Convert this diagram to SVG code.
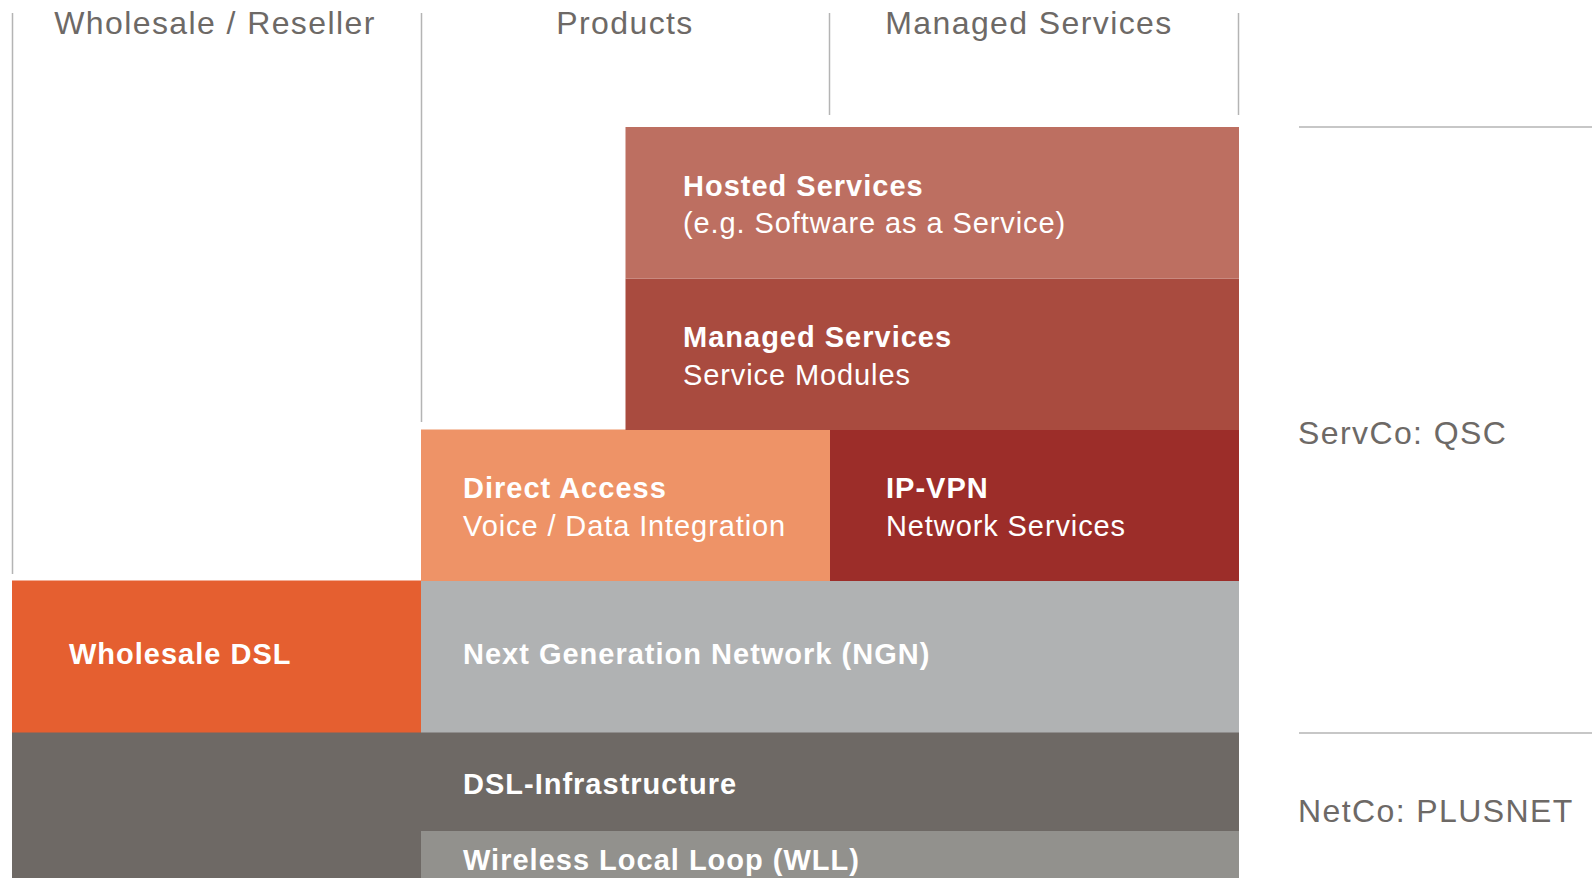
<svg xmlns="http://www.w3.org/2000/svg" width="1592" height="878" viewBox="0 0 1592 878">
  <style>
    .hdr { font-family: "Liberation Sans", Arial, sans-serif; font-size: 32px; letter-spacing: 1.4px; fill: #6d6966; text-anchor: middle; }
    .side { font-family: "Liberation Sans", Arial, sans-serif; font-size: 32px; letter-spacing: 1.4px; fill: #6d6966; }
    .t { font-family: "Liberation Sans", Arial, sans-serif; font-size: 29px; fill: #ffffff; }
    .b { font-weight: bold; letter-spacing: 1px; }
    .r { letter-spacing: 0.9px; }
    .rule { stroke: #b4b4b4; stroke-width: 1.5; fill: none; }
  </style>

  <rect width="1592" height="878" fill="#ffffff"/>

  <!-- column dividers and layer separators -->
  <g id="rules">
    <line class="rule" x1="12.5" y1="13" x2="12.5" y2="574"/>
    <line class="rule" x1="421.5" y1="13" x2="421.5" y2="422"/>
    <line class="rule" x1="829.5" y1="13" x2="829.5" y2="115"/>
    <line class="rule" x1="1238.5" y1="13" x2="1238.5" y2="115"/>
    <line class="rule" x1="1299" y1="127" x2="1592" y2="127"/>
    <line class="rule" x1="1299" y1="733" x2="1592" y2="733"/>
  </g>

  <!-- column headings -->
  <g id="headers">
    <text class="hdr" x="215" y="34">Wholesale / Reseller</text>
    <text class="hdr" x="625" y="34">Products</text>
    <text class="hdr" x="1029" y="34">Managed Services</text>
  </g>

  <!-- layer labels -->
  <g id="servco">
    <text class="side" x="1298" y="444">ServCo: QSC</text>
  </g>
  <g id="netco">
    <text class="side" x="1298" y="822">NetCo: PLUSNET</text>
  </g>

  <!-- building blocks -->
  <g id="dsl-infrastructure">
    <rect x="12" y="732" width="1227" height="146" fill="#6e6965"/>
    <text class="t b" x="463" y="793.5">DSL-Infrastructure</text>
  </g>

  <g id="wll">
    <rect x="421" y="831" width="818" height="47" fill="#92918d"/>
    <text class="t b" x="463" y="869.5">Wireless Local Loop (WLL)</text>
  </g>

  <g id="wholesale-dsl">
    <rect x="12" y="580.5" width="409" height="152" fill="#e55f30"/>
    <text class="t b" x="69" y="663.5">Wholesale DSL</text>
  </g>

  <g id="ngn">
    <rect x="421" y="580.5" width="818" height="152" fill="#b0b2b3"/>
    <text class="t b" x="463" y="663.5">Next Generation Network (NGN)</text>
  </g>

  <g id="direct-access">
    <rect x="421" y="429.5" width="409" height="151.5" fill="#ee9367"/>
    <text class="t b" x="463" y="498">Direct Access</text>
    <text class="t r" x="463" y="535.5">Voice / Data Integration</text>
  </g>

  <g id="ip-vpn">
    <rect x="830" y="429.5" width="409" height="151.5" fill="#9c2d29"/>
    <text class="t b" x="886" y="498">IP-VPN</text>
    <text class="t r" x="886" y="535.5">Network Services</text>
  </g>

  <g id="managed-services">
    <rect x="625.5" y="278.5" width="613.5" height="151.5" fill="#a94b3f"/>
    <text class="t b" x="683" y="347">Managed Services</text>
    <text class="t r" x="683" y="384.5">Service Modules</text>
  </g>

  <g id="hosted-services">
    <rect x="625.5" y="127" width="613.5" height="151.5" fill="#bd6f61"/>
    <text class="t b" x="683" y="195.5">Hosted Services</text>
    <text class="t r" x="683" y="233">(e.g. Software as a Service)</text>
  </g>
</svg>
